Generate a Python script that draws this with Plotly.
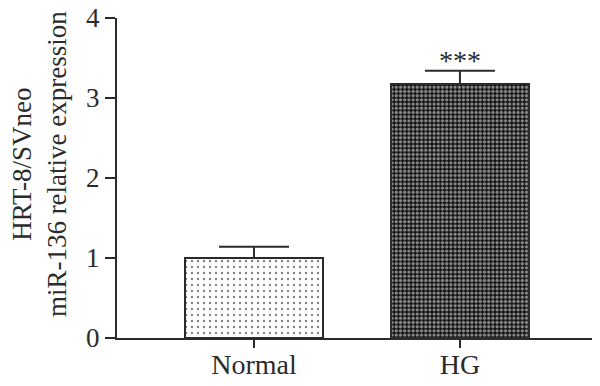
import plotly.graph_objects as go

categories = ["Normal", "HG"]
values = [1.0, 3.17]
err_up = [0.14, 0.17]
sig_labels = ["", "***"]
y_ticks = [0, 1, 2, 3, 4]

FONT = "Liberation Serif"
INK = "#2b2b2b"

fig = go.Figure()
fig.add_trace(go.Bar(
    x=[0], y=[values[0]], width=0.67,
    marker=dict(color="white", line=dict(color=INK, width=2),
                pattern=dict(shape=".", size=6, solidity=0.12, fgcolor="#000", bgcolor="white", fillmode="overlay")),
    error_y=dict(type="data", symmetric=False, array=[err_up[0]], arrayminus=[0],
                 color=INK, thickness=2, width=35),
    showlegend=False,
))
fig.add_trace(go.Bar(
    x=[1], y=[values[1]], width=0.67,
    marker=dict(color="#111", line=dict(color=INK, width=2),
                pattern=dict(shape=".", size=4.2, solidity=0.48, fgcolor="white", bgcolor="#111", fillmode="overlay")),
    error_y=dict(type="data", symmetric=False, array=[err_up[1]], arrayminus=[0],
                 color=INK, thickness=2, width=35),
    showlegend=False,
))

for i, s in enumerate(sig_labels):
    if s:
        fig.add_annotation(x=i, y=values[i] + err_up[i], yref="y", text=s, showarrow=False,
                           yanchor="bottom", yshift=-7, font=dict(family=FONT, size=28, color=INK))

fig.add_annotation(xref="paper", yref="y", x=-0.160, y=2.17, xanchor="center", yanchor="middle",
                   textangle=-90, showarrow=False,
                   text="HRT-8/SVneo<br>miR-136 relative expression",
                   font=dict(family=FONT, size=27, color=INK))

# extension of x axis line to the left of y axis
fig.add_shape(type="line", xref="paper", yref="y", x0=-10/483, x1=0, y0=0, y1=0,
              line=dict(color=INK, width=2))

fig.update_layout(
    width=600, height=386,
    margin=dict(l=109, r=8, t=10, b=56, autoexpand=False),
    plot_bgcolor="white", paper_bgcolor="white",
    font=dict(family=FONT, size=28, color=INK),
    bargap=0,
)
fig.update_xaxes(range=[-0.665, 1.68], tickvals=[0, 1], ticktext=categories,
                 showline=True, linecolor=INK, linewidth=2, ticks="outside", ticklen=8,
                 tickwidth=2, tickcolor=INK, showgrid=False, zeroline=False,
                 ticklabelstandoff=-8, automargin=False,
                 tickfont=dict(family=FONT, size=28, color=INK))
fig.update_yaxes(range=[0, 4], tickvals=y_ticks, showline=True, linecolor=INK, linewidth=2,
                 ticks="outside", ticklen=10, tickwidth=2, tickcolor=INK, showgrid=False,
                 zeroline=False, ticklabeloverflow="allow", automargin=False,
                 tickfont=dict(family=FONT, size=27, color=INK))

fig.write_html("out.html")
